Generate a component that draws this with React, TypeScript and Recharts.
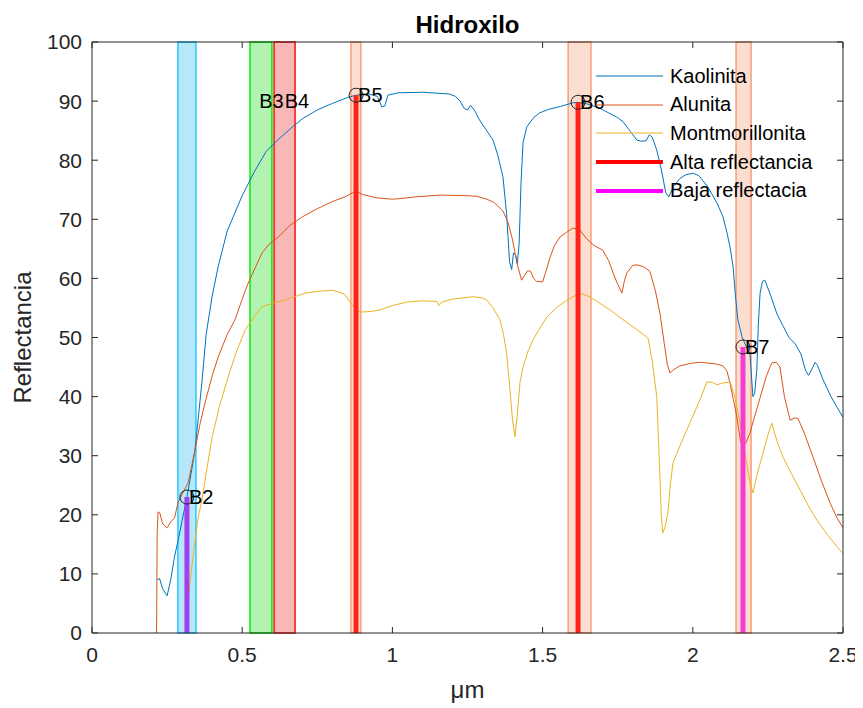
import { LineChart, Line, XAxis, YAxis, ReferenceArea, ReferenceDot, Legend } from "recharts";

const FONT = '"Liberation Sans", Arial, Helvetica, sans-serif';
const INK = "#262626";
const TICK_LEN = 6;

const xTicks = [0, 0.5, 1, 1.5, 2, 2.5];
const yTicks = [0, 10, 20, 30, 40, 50, 60, 70, 80, 90, 100];

// espectros (um, %)
const kaolinitaX = [
  0.217, 0.225, 0.235, 0.25, 0.262, 0.275, 0.286, 0.3, 0.316, 0.33, 0.343, 0.355, 0.366, 0.38, 0.4, 0.42, 0.45, 0.5,
  0.54, 0.58, 0.62, 0.66, 0.7, 0.75, 0.8, 0.85, 0.879, 0.92, 0.95, 0.965, 0.975, 0.985, 1.02, 1.1, 1.19, 1.21, 1.225,
  1.24, 1.25, 1.26, 1.275, 1.29, 1.31, 1.335, 1.35, 1.368, 1.38, 1.39, 1.397, 1.403, 1.41, 1.416, 1.422, 1.428, 1.435,
  1.447, 1.47, 1.49, 1.52, 1.56, 1.6, 1.618, 1.65, 1.69, 1.72, 1.75, 1.768, 1.79, 1.814, 1.83, 1.845, 1.855, 1.865,
  1.88, 1.895, 1.91, 1.92, 1.935, 1.955, 1.975, 2.0, 2.02, 2.05, 2.08, 2.1, 2.114, 2.125, 2.134, 2.142, 2.15, 2.164,
  2.18, 2.19, 2.196, 2.2, 2.206, 2.213, 2.218, 2.224, 2.232, 2.24, 2.26, 2.28, 2.3, 2.32, 2.34, 2.36, 2.375, 2.385,
  2.395, 2.407, 2.415, 2.434, 2.46, 2.48, 2.5,
];
const kaolinitaY = [
  9.0, 9.2, 7.5, 6.3, 9, 13, 15.5, 19, 23, 27, 31, 37, 42.5, 50.5, 57, 62, 68, 74,
  78, 81.5, 83.5, 85.3, 87, 88.5, 89.6, 90.6, 91.0, 91.2, 90.8, 89.0, 89.2, 91.0, 91.4, 91.5, 91.2, 90.8, 90.0,
  88.7, 88.5, 89.3, 88.3, 86.8, 85.3, 83.4, 81, 77.2, 71, 62.8, 61.5, 64.3, 64, 62.5, 66, 76, 83,
  85.6, 87.2, 88, 88.6, 89.1, 89.7, 89.8, 89.5, 88.8, 88, 87.2, 86.5, 85, 83.4, 83.2, 83.3, 84.3, 83.9,
  81.7, 78.5, 74.5, 73.8, 75.5, 76.8, 77.5, 77.8, 77.4, 75.5, 72.8, 70.5, 67.7, 65, 62, 57, 53, 50.1,
  48.2, 47.5, 43, 40, 40.5, 44.5, 52, 57.5, 59.5, 59.7, 57, 54, 52, 50, 49, 47.2, 44.5, 43.6,
  44.5, 45.8, 45.3, 42.8, 40, 38.2, 36.5,
];

const alunitaX = [
  0.215, 0.217, 0.22, 0.226, 0.235, 0.25, 0.262, 0.275, 0.286, 0.3, 0.32, 0.343, 0.36, 0.376, 0.4, 0.42, 0.45, 0.476,
  0.5, 0.52, 0.545, 0.566, 0.59, 0.62, 0.66, 0.7, 0.75, 0.8, 0.842, 0.879, 0.9, 0.95, 1.0, 1.025, 1.08, 1.158, 1.248,
  1.28, 1.315, 1.34, 1.368, 1.385, 1.4, 1.415, 1.43, 1.44, 1.45, 1.46, 1.47, 1.48, 1.5, 1.51, 1.525, 1.54, 1.558,
  1.58, 1.6, 1.624, 1.645, 1.67, 1.7, 1.72, 1.735, 1.75, 1.764, 1.772, 1.78, 1.8, 1.814, 1.835, 1.857, 1.875, 1.891,
  1.905, 1.915, 1.924, 1.935, 1.957, 1.99, 2.02, 2.047, 2.08, 2.1, 2.114, 2.125, 2.135, 2.147, 2.157, 2.164, 2.175,
  2.19, 2.205, 2.224, 2.245, 2.263, 2.278, 2.29, 2.305, 2.324, 2.34, 2.35, 2.37, 2.4, 2.43, 2.457, 2.48, 2.5,
];
const alunitaY = [
  0, 17, 20.5, 20.3, 18.5, 17.8, 18.8, 19.5, 22, 23.5, 25.4, 31, 35.5, 38.9, 43.5, 46.7, 50.5, 53,
  56.5, 59.2, 62, 64.3, 65.8, 67, 69, 70.4, 71.8, 73, 73.8, 74.8, 74.2, 73.6, 73.4, 73.5, 73.8, 74.1, 74.0,
  73.9, 73.4, 72.8, 71.4, 69.5, 66.5, 62.5, 59.7, 60.5, 61.3, 61.2, 60, 59.5, 59.4, 61, 63.6, 65.6, 67,
  67.8, 68.5, 68.2, 66.8, 65.6, 64.8, 63, 60.9, 59, 57.5, 59.5, 60.9, 62.2, 62.3, 62, 61.2, 58, 54,
  49, 45.5, 44.0, 44.5, 45.2, 45.6, 45.8, 45.7, 45.5, 45.2, 44.3, 42, 39.5, 36.5, 33, 31.5, 32,
  33.8, 36.5, 39.8, 43.5, 45.7, 45.8, 45, 40, 36, 36.4, 36.3, 34, 29.8, 25.5, 22, 19.5, 17.8,
];

const montmorillonitaX = [
  0.318, 0.326, 0.333, 0.345, 0.355, 0.366, 0.38, 0.4, 0.425, 0.453, 0.48, 0.51, 0.54, 0.566, 0.6, 0.642, 0.68, 0.709,
  0.75, 0.8, 0.826, 0.842, 0.859, 0.875, 0.892, 0.93, 0.96, 1.0, 1.048, 1.1, 1.148, 1.155, 1.165, 1.2, 1.268, 1.3,
  1.315, 1.335, 1.358, 1.37, 1.38, 1.39, 1.4, 1.408, 1.415, 1.425, 1.435, 1.45, 1.468, 1.49, 1.515, 1.55, 1.58, 1.624,
  1.658, 1.69, 1.724, 1.768, 1.81, 1.851, 1.865, 1.88, 1.888, 1.895, 1.9, 1.908, 1.917, 1.925, 1.934, 1.96, 1.99,
  2.02, 2.047, 2.065, 2.08, 2.1, 2.124, 2.14, 2.157, 2.175, 2.19, 2.2, 2.215, 2.234, 2.25, 2.263, 2.28, 2.3, 2.33,
  2.357, 2.385, 2.413, 2.45, 2.49, 2.5,
];
const montmorillonitaY = [
  4, 8.5, 11.5, 16.5, 20, 22.5, 27, 33.2, 38.5, 43.3, 47.5, 51.3, 53.5, 55.2, 55.8, 56.3, 57.0, 57.5,
  57.8, 58.0, 57.6, 57.3, 56, 55, 54.3, 54.4, 54.7, 55.4, 56, 56.2, 56.1, 55.4, 56, 56.5, 56.9, 56.7,
  56.3, 55, 53, 50.5, 47.4, 42, 36, 33.2, 36.5, 42.5, 45, 47.5, 49.6, 51.5, 53.5, 55.2, 56.3, 57.5,
  56.9, 55.8, 54.7, 53, 51.5, 49.9, 46, 40, 30, 20, 16.9, 18, 20.3, 25, 28.8, 32, 35.5,
  39, 42.5, 42.4, 42, 42.3, 42.5, 40, 35.5, 30, 25.5, 23.7, 27, 30.5, 33.5, 35.5, 32.5, 29.8, 26.8,
  24.2, 21.5, 19.1, 16.5, 14, 13.5,
];

// bandas del sensor
const bandNames = ["B2", "B3", "B4", "B5", "B6", "B7"];
const bandStart = [0.286, 0.526, 0.606, 0.862, 1.585, 2.144];
const bandEnd = [0.346, 0.599, 0.676, 0.895, 1.661, 2.194];

// marcadores de reflectancia
const markerNames = ["B2", "B5", "B6", "B7"];
const markerX = [0.316, 0.879, 1.618, 2.167];
const markerY = [23, 91, 89.8, 48.4];
const markerHigh = [false, true, true, false];

const textNames = ["B3", "B4"];
const textX = [0.55, 0.635];
const textY = [90, 90];

const legendNames = ["Kaolinita", "Alunita", "Montmorillonita", "Alta reflectancia", "Baja reflectacia"];

const toPoints = (xs: number[], ys: number[]) => xs.map((x, i) => ({ x, y: ys[i] }));

const bandStyle: Record<string, { fill: string; stroke: string }> = {
  B2: { fill: "#33bbee", stroke: "#22ccff" },
  B3: { fill: "#22dd22", stroke: "#00ee00" },
  B4: { fill: "#ee3333", stroke: "#ff1111" },
  B5: { fill: "#f7a07a", stroke: "#f7a07a" },
  B6: { fill: "#f7a07a", stroke: "#f7a07a" },
  B7: { fill: "#f7a07a", stroke: "#f7a07a" },
};

const series = [
  { name: legendNames[0], data: toPoints(kaolinitaX, kaolinitaY), color: "#0072BD" },
  { name: legendNames[1], data: toPoints(alunitaX, alunitaY), color: "#D95319" },
  { name: legendNames[2], data: toPoints(montmorillonitaX, montmorillonitaY), color: "#EDB120" },
];

const legendStyle = [
  { color: "#0072BD", width: 1 },
  { color: "#D95319", width: 1 },
  { color: "#EDB120", width: 1 },
  { color: "#ff0000", width: 4 },
  { color: "#ff00ff", width: 4 },
];

// ticks hacia dentro, estilo MATLAB
const BottomTick = (props: any) => {
  const { x, y, payload } = props;
  return (
    <g>
      <line x1={x} x2={x} y1={y} y2={y - TICK_LEN} stroke={INK} />
      <text x={x} y={y + 14} dy="0.71em" textAnchor="middle" fontSize={21} fill={INK}>
        {payload.value}
      </text>
    </g>
  );
};
const LeftTick = (props: any) => {
  const { x, y, payload } = props;
  return (
    <g>
      <line x1={x} x2={x + TICK_LEN} y1={y} y2={y} stroke={INK} />
      <text x={x - 10} y={y} dy="0.355em" textAnchor="end" fontSize={21} fill={INK}>
        {payload.value}
      </text>
    </g>
  );
};
const TopTick = (props: any) => (
  <line x1={props.x} x2={props.x} y1={props.y} y2={props.y + TICK_LEN} stroke={INK} />
);
const RightTick = (props: any) => (
  <line x1={props.x} x2={props.x - TICK_LEN} y1={props.y} y2={props.y} stroke={INK} />
);

function LegendBox() {
  return (
    <div style={{ fontFamily: FONT, fontSize: 20, color: "#000" }}>
      {legendNames.map((name, i) => (
        <div key={name} style={{ display: "flex", alignItems: "center", height: 28.6 }}>
          <svg width={67} height={10} style={{ marginRight: 7 }}>
            <line x1={0} x2={67} y1={5} y2={5} stroke={legendStyle[i].color} strokeWidth={legendStyle[i].width} />
          </svg>
          <span style={{ whiteSpace: "nowrap" }}>{name}</span>
        </div>
      ))}
    </div>
  );
}

export default function App() {
  return (
    <LineChart
      width={855}
      height={700}
      margin={{ top: 33, right: 19, bottom: 30, left: 34 }}
      style={{ fontFamily: FONT }}
    >
      {bandNames.map((b, i) => (
        <ReferenceArea
          key={b}
          x1={bandStart[i]}
          x2={bandEnd[i]}
          y1={0}
          y2={100}
          fill={bandStyle[b].fill}
          fillOpacity={0.35}
          stroke={bandStyle[b].stroke}
          strokeWidth={1.5}
        />
      ))}
      <XAxis
        dataKey="x"
        type="number"
        domain={[0, 2.5]}
        ticks={xTicks}
        allowDataOverflow
        height={45}
        stroke={INK}
        tickSize={0}
        tickMargin={0}
        tickLine={false}
        tick={BottomTick}
        label={{
          content: () => (
            <text x={459.5} y={690} textAnchor="middle" fontSize={24} fill={INK}>
              μm
            </text>
          ),
        }}
      />
      <XAxis
        xAxisId="top"
        orientation="top"
        dataKey="x"
        type="number"
        domain={[0, 2.5]}
        ticks={xTicks}
        allowDataOverflow
        height={1}
        stroke={INK}
        tickSize={0}
        tickMargin={0}
        tickLine={false}
        tick={TopTick}
        label={{
          content: () => (
            <text x={459.5} y={25} textAnchor="middle" fontSize={24} fontWeight="bold" fill="#000">
              Hidroxilo
            </text>
          ),
        }}
      />
      <YAxis
        type="number"
        domain={[0, 100]}
        ticks={yTicks}
        width={50}
        stroke={INK}
        tickSize={0}
        tickMargin={0}
        tickLine={false}
        tick={LeftTick}
        label={{
          content: () => (
            <text
              x={14}
              y={329.5}
              transform="rotate(-90 14 329.5)"
              textAnchor="middle"
              dominantBaseline="central"
              fontSize={24}
              fill={INK}
            >
              Reflectancia
            </text>
          ),
        }}
      />
      <YAxis
        yAxisId="right"
        orientation="right"
        type="number"
        domain={[0, 100]}
        ticks={yTicks}
        allowDataOverflow
        width={1}
        stroke={INK}
        tickSize={0}
        tickMargin={0}
        tickLine={false}
        tick={RightTick}
      />
      {series.map((s) => (
        <Line
          key={s.name}
          data={s.data}
          dataKey="y"
          name={s.name}
          stroke={s.color}
          strokeWidth={1}
          dot={false}
          type="linear"
          isAnimationActive={false}
        />
      ))}
      {markerNames.map((m, i) => (
        <Line
          key={"v" + m}
          data={[
            { x: markerX[i], y: 0 },
            { x: markerX[i], y: markerY[i] },
          ]}
          dataKey="y"
          stroke={markerHigh[i] ? "#ff2218" : i === 0 ? "#a040ee" : "#f53cd2"}
          strokeWidth={5}
          dot={false}
          legendType="none"
          isAnimationActive={false}
        />
      ))}
      {markerNames.map((m, i) => (
        <ReferenceDot
          key={"d" + m}
          x={markerX[i]}
          y={markerY[i]}
          r={7}
          fill="none"
          stroke="#222"
          strokeWidth={1}
          label={{ value: m, position: "right", offset: -5, fontSize: 20, fill: "#000" }}
        />
      ))}
      {textNames.map((t, i) => (
        <ReferenceDot
          key={"t" + t}
          x={textX[i]}
          y={textY[i]}
          r={0}
          fill="none"
          stroke="none"
          label={{ value: t, position: "right", offset: 2, fontSize: 20, fill: "#000" }}
        />
      ))}
      <Legend
        layout="vertical"
        align="center"
        verticalAlign="middle"
        content={() => <LegendBox />}
        wrapperStyle={{ position: "absolute", left: 588, top: 54, width: 250, height: 145 }}
      />
    </LineChart>
  );
}
